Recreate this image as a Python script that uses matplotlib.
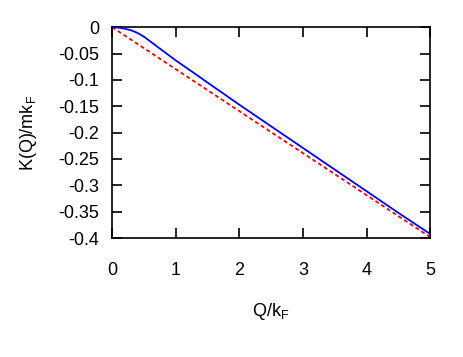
import matplotlib
matplotlib.use("Agg")
import matplotlib.pyplot as plt
import numpy as np

plt.rcParams['font.family'] = ['Liberation Sans', 'DejaVu Sans']

# Data
q_blue = [0.0, 0.1, 0.2, 0.3, 0.4, 0.5, 0.6, 0.8, 1.0, 1.3, 1.5, 2.0, 2.5, 3.0, 3.5, 4.0, 4.5, 5.0]
k_blue = [0.0, -0.001, -0.003, -0.006, -0.011, -0.018, -0.027, -0.045, -0.063, -0.088,
          -0.105, -0.147, -0.188, -0.229, -0.270, -0.311, -0.352, -0.392]
q_red = [0.0, 5.0]
k_red = [0.0, -0.398]

xticks = [0, 1, 2, 3, 4, 5]
yticks = [0, -0.05, -0.1, -0.15, -0.2, -0.25, -0.3, -0.35, -0.4]
ytick_labels = ['0', '-0.05', '-0.1', '-0.15', '-0.2', '-0.25', '-0.3', '-0.35', '-0.4']

fig = plt.figure(figsize=(4.63, 3.57), dpi=100)
ax = fig.add_axes([0.242, 0.333, 0.687, 0.591])

ax.plot(q_blue, k_blue, color='#0000ff', lw=1.3, zorder=3)
ax.plot(q_red, k_red, color='#ff0000', lw=1.3, dashes=(2.2, 1.6), zorder=2)

ax.set_xlim(0, 5)
ax.set_ylim(-0.4, 0)
ax.set_xticks(xticks)
ax.set_xticklabels([str(t) for t in xticks])
ax.set_yticks(yticks)
ax.set_yticklabels(ytick_labels)

for s in ax.spines.values():
    s.set_linewidth(1.2)
ax.tick_params(direction='in', length=7, width=1.2, top=True, right=True,
               labelsize=13)
ax.tick_params(axis='x', pad=17)
ax.tick_params(axis='y', pad=9)

ax.set_xlabel(r'Q/k$_\mathregular{F}$', fontsize=13, labelpad=16)
ax.set_ylabel(r'K(Q)/mk$_\mathregular{F}$', fontsize=13, labelpad=14)

fig.savefig('out.png', dpi=100)
